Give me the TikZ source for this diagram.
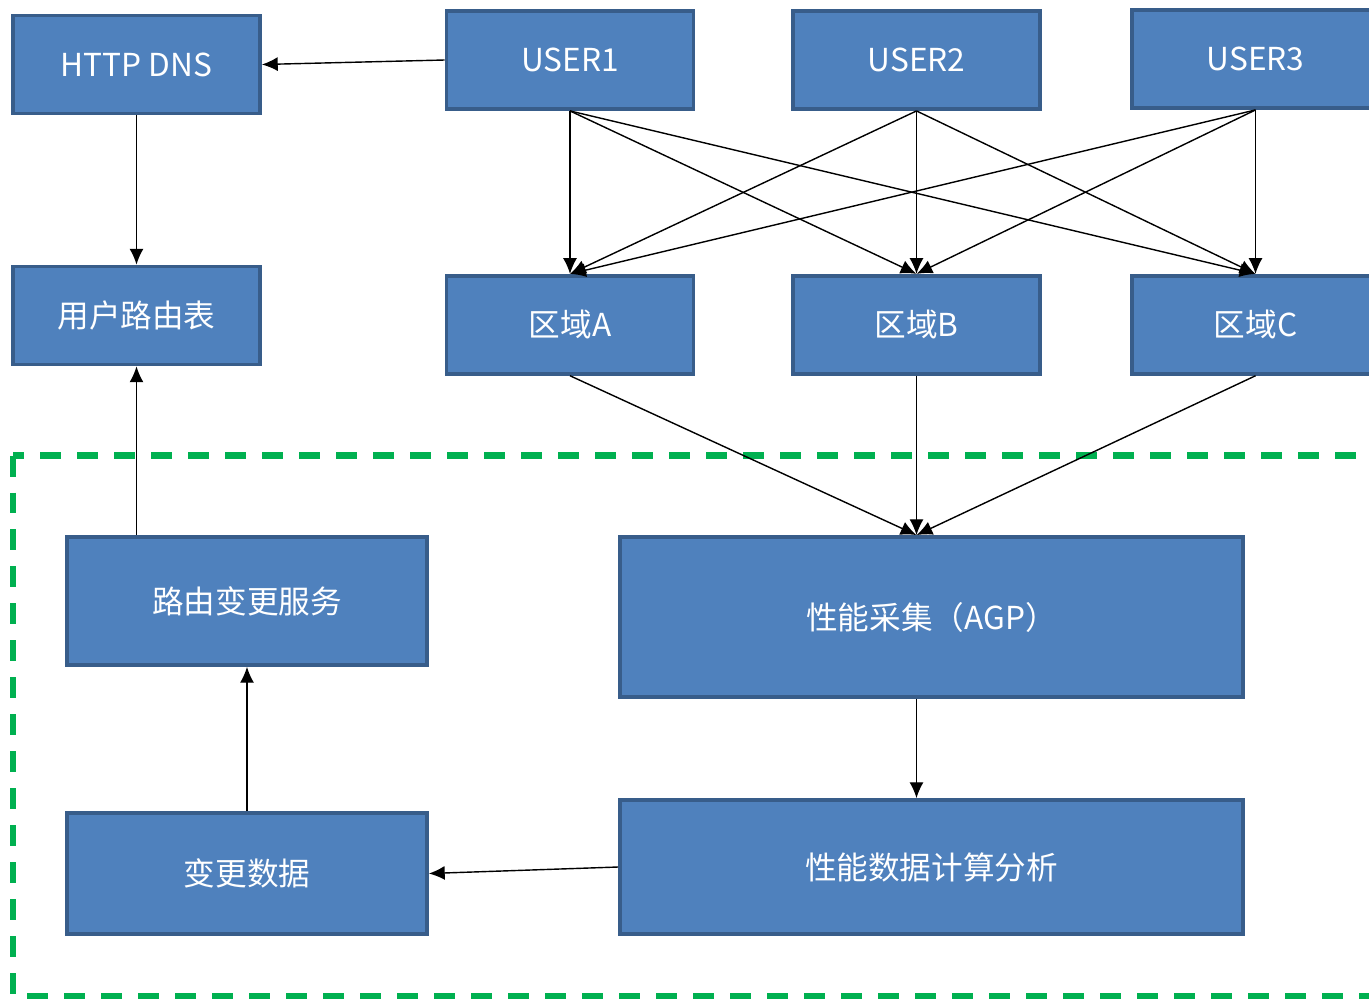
\documentclass[tikz,border=0pt]{standalone}
\usepackage{fontspec}
\setmainfont{Noto Sans CJK SC}
\usetikzlibrary{positioning}
\usetikzlibrary{arrows.meta}
\usetikzlibrary{calc}
\definecolor{boxfill}{HTML}{4F81BD}
\definecolor{boxline}{HTML}{385D8A}
\definecolor{zonegreen}{HTML}{00B050}

\begin{document}
\begin{tikzpicture}[x=0.02cm, y=-0.02cm, ->, >={Latex[length=9pt,width=8pt]}, line width=0.8pt, font=\fontsize{18pt}{21pt}\selectfont]
    \tikzstyle{block}=[draw=boxline, fill=boxfill, line width=2.2pt, text=white, rectangle, minimum width=4.94cm, minimum height=1.96cm, inner sep=0pt]
    \tikzstyle{midblock}=[block, minimum width=7.2cm]
    \tikzstyle{wideblock}=[block, minimum width=12.46cm]
    \tikzstyle{zone}=[-, draw=zonegreen, line width=3.5pt, dash pattern=on 0.42cm off 0.32cm]

    \useasboundingbox (0,0) rectangle (1369,998);

    % monitored zone
    \draw[zone] (13,455.5) rectangle (1420,996);

    \node[block] (dns) at (136.5,64.5) {HTTP DNS};
    \node[block] (rt) at (136.5,315.5) {用户路由表};
    \node[block] (u1) at (570,60) {USER1};
    \node[block] (u2) at (916.5,60) {USER2};
    \node[block] (u3) at (1255.5,59) {USER3};
    \node[block, below=3.26cm of u1] (ra) {区域A};
    \node[block, below=3.26cm of u2] (rb) {区域B};
    \node[block, below=3.28cm of u3] (rc) {区域C};

    \node[midblock, minimum height=2.56cm] (svc) at (247,601) {路由变更服务};
    \node[midblock, minimum height=2.42cm] (chg) at (247,873.5) {变更数据};
    \node[wideblock, minimum height=3.2cm] (agp) at (931.5,617) {性能采集（AGP）};
    \node[wideblock, minimum height=2.68cm] (calc) at (931.5,867) {性能数据计算分析};

    \draw (u1.west) -- (dns.east);
    \draw (dns) -- (rt);
    \draw (svc.north -| rt) -- (rt);
    \draw (chg) -- (svc);
    \draw (calc.west) -- (chg.east);
    \draw (agp.south -| rb) -- (calc.north -| rb);

    \foreach \u in {u1,u2,u3}
        \foreach \r in {ra,rb,rc}
            \draw (\u.south) -- (\r.north);
    \foreach \r in {ra,rb,rc}
        \draw (\r.south) -- (agp.north -| rb);
\end{tikzpicture}
\end{document}
